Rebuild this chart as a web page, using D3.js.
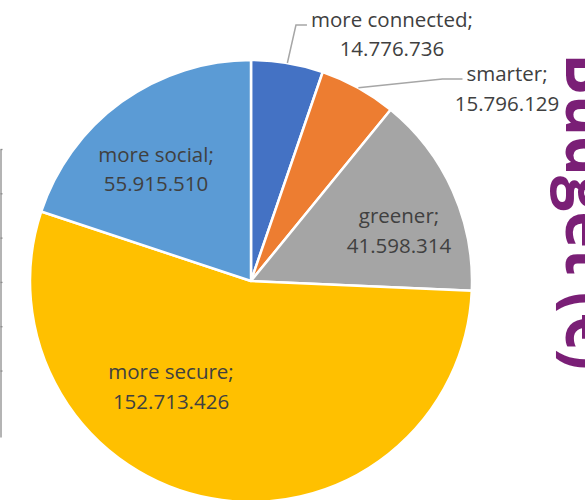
<!DOCTYPE html>
<html>
<head>
<meta charset="utf-8">
<script src="https://cdn.jsdelivr.net/npm/d3@7/dist/d3.min.js"></script>
<style>
  html, body { margin: 0; padding: 0; background: #fff; overflow: hidden; }
  svg { display: block; }
</style>
</head>
<body>
<svg id="chart" width="585" height="500"></svg>
<script>
// ---- data ----
const categories = ["more connected", "smarter", "greener", "more secure", "more social"];
const values = [14776736, 15796129, 41598314, 152713426, 55915510];
const valueLabels = ["14.776.736", "15.796.129", "41.598.314", "152.713.426", "55.915.510"];
const axisTitle = "Budget (€)";
const axisTickValues = [0, 1, 2, 3, 4, 5];

// ---- layout / style ----
const colors = ["#4472C4", "#ED7D31", "#A5A5A5", "#FFC000", "#5B9BD5"];
// label anchor in polar coords relative to pie centre: [angle deg clockwise from top, distance px]
const labelPolar = [[29.7, 284.4], [53.0, 320.6], [71.0, 156.5], [217.3, 132.0], [319.7, 146.9]];
const hasLeader = [true, true, false, false, false];

const W = 585, H = 500;
const cx = 251, cy = 281, R = 221;
const fontFam = "'Open Sans', 'Liberation Sans', sans-serif";
const textColor = "#404040";

const svg = d3.select("#chart");

// remnant axis line at left edge
const yAx = d3.scaleLinear().domain([-1.5, 5]).range([437, 149]);
const axG = svg.append("g").attr("transform", "translate(0.5,0)")
  .call(d3.axisRight(yAx).tickValues(axisTickValues).tickSize(2).tickSizeOuter(0).tickFormat(""));
axG.select(".domain").attr("stroke", "#8c8c8c").attr("stroke-width", 1.3);
axG.selectAll(".tick line").attr("stroke", "#8c8c8c").attr("stroke-width", 1.3);

// pie
const pie = d3.pie().sort(null).value(d => d.v).startAngle(0).endAngle(2 * Math.PI);
const data = categories.map((c, i) => ({ c, v: values[i], lab: valueLabels[i], i }));
const arcs = pie(data);
const arc = d3.arc().innerRadius(0).outerRadius(R);

const g = svg.append("g").attr("transform", `translate(${cx},${cy})`);
g.selectAll("path.slice").data(arcs).enter().append("path")
  .attr("class", "slice")
  .attr("d", arc)
  .attr("fill", d => colors[d.data.i])
  .attr("stroke", "#fff")
  .attr("stroke-width", 2.5)
  .attr("stroke-linejoin", "round");

// labels
const polar = (angDeg, r) => {
  const a = angDeg * Math.PI / 180;
  return [r * Math.sin(a), -r * Math.cos(a)];
};

arcs.forEach(d => {
  const i = d.data.i;
  const [ax, ay] = polar(labelPolar[i][0], labelPolar[i][1]);
  const t = g.append("text")
    .attr("text-anchor", "middle")
    .attr("font-family", fontFam)
    .attr("font-size", "20.5px")
    .attr("fill", textColor);
  t.append("tspan").attr("x", ax).attr("y", ay - 7).text(d.data.c + ";");
  t.append("tspan").attr("x", ax).attr("y", ay + 22.5).text(d.data.lab);

  if (hasLeader[i]) {
    const w1 = t.select("tspan").node().getComputedTextLength();
    const left = ax - w1 / 2;
    const mid = (d.startAngle + d.endAngle) / 2;
    const sx = R * Math.sin(mid), sy = -R * Math.cos(mid);
    const ly = ay - 9;
    const elbowX = left - (i === 0 ? 15 : 24);
    g.insert("polyline", "text")
      .attr("points", [[sx, sy], [elbowX, ly], [left - 4, ly]].map(p => p.join(",")).join(" "))
      .attr("fill", "none")
      .attr("stroke", "#a6a6a6")
      .attr("stroke-width", 1.5);
  }
});

// axis title (partly outside the right edge, as in the reference)
svg.append("text")
  .attr("transform", "translate(566,53) rotate(90)")
  .attr("font-family", fontFam)
  .attr("font-weight", "bold")
  .attr("font-size", "66px")
  .attr("fill", "#7A1F76")
  .attr("textLength", 317)
  .attr("lengthAdjust", "spacingAndGlyphs")
  .text(axisTitle);
</script>
</body>
</html>
